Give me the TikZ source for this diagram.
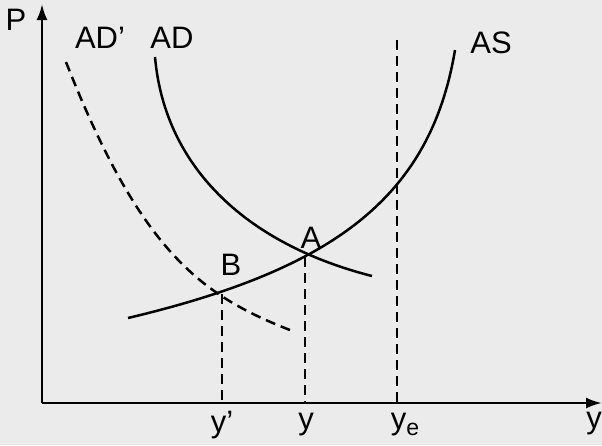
\documentclass[tikz,border=0pt]{standalone}
\usepackage{fontspec}
\setmainfont{Liberation Sans}
\usetikzlibrary{arrows.meta}

\begin{document}
\begin{tikzpicture}[x=1pt,y=-1pt,line width=2.5pt,
  lbl/.style={font=\fontsize{31}{34}\selectfont,inner sep=0pt},
  dsh/.style={dash pattern=on 10pt off 6pt}]
\fill[black!8] (0,0) rectangle (602,445);
\useasboundingbox (0,0) rectangle (602,445);

\coordinate (o) at (42,403);
\coordinate (B) at (222,294);
\coordinate (A) at (305,257);

% axes
\draw[-{Latex[length=16pt,width=11pt]}] (o) -- (42,4) coordinate (ptop);
\draw[-{Latex[length=16pt,width=11pt]}] (o) -- (602,403) coordinate (yend);
\node[lbl] (P) at (16,20) {P};
\node[lbl] (yax) at (594,424) {y};

% demand and supply
\draw[dsh] (66,62) .. controls (140,250) and (200,295) .. (290,330);
\draw (155,57) .. controls (165,170) and (250,245) .. (372,276);
\draw (128,318) .. controls (330,270) and (430,200) .. (455,50);
\node[lbl] (adp) at (100,38) {AD'};
\node[lbl] (ad) at (172,38) {AD};
\node[lbl] (as) at (491,43) {AS};

% outputs
\draw[dsh] (B) -- (B |- o);
\draw[dsh] (A) -- (A |- o);
\draw[dsh] (397,40) -- (397,403);
\node[lbl] (lB) at (231,265) {B};
\node[lbl] (lA) at (311,238) {A};
\node[lbl] (y1) at (222,425) {y'};
\node[lbl] (y0) at (306,425) {y};
\node[lbl] (ye) at (405,425) {y\raisebox{-6pt}{\fontsize{23}{25}\selectfont e}};

\end{tikzpicture}
\end{document}
